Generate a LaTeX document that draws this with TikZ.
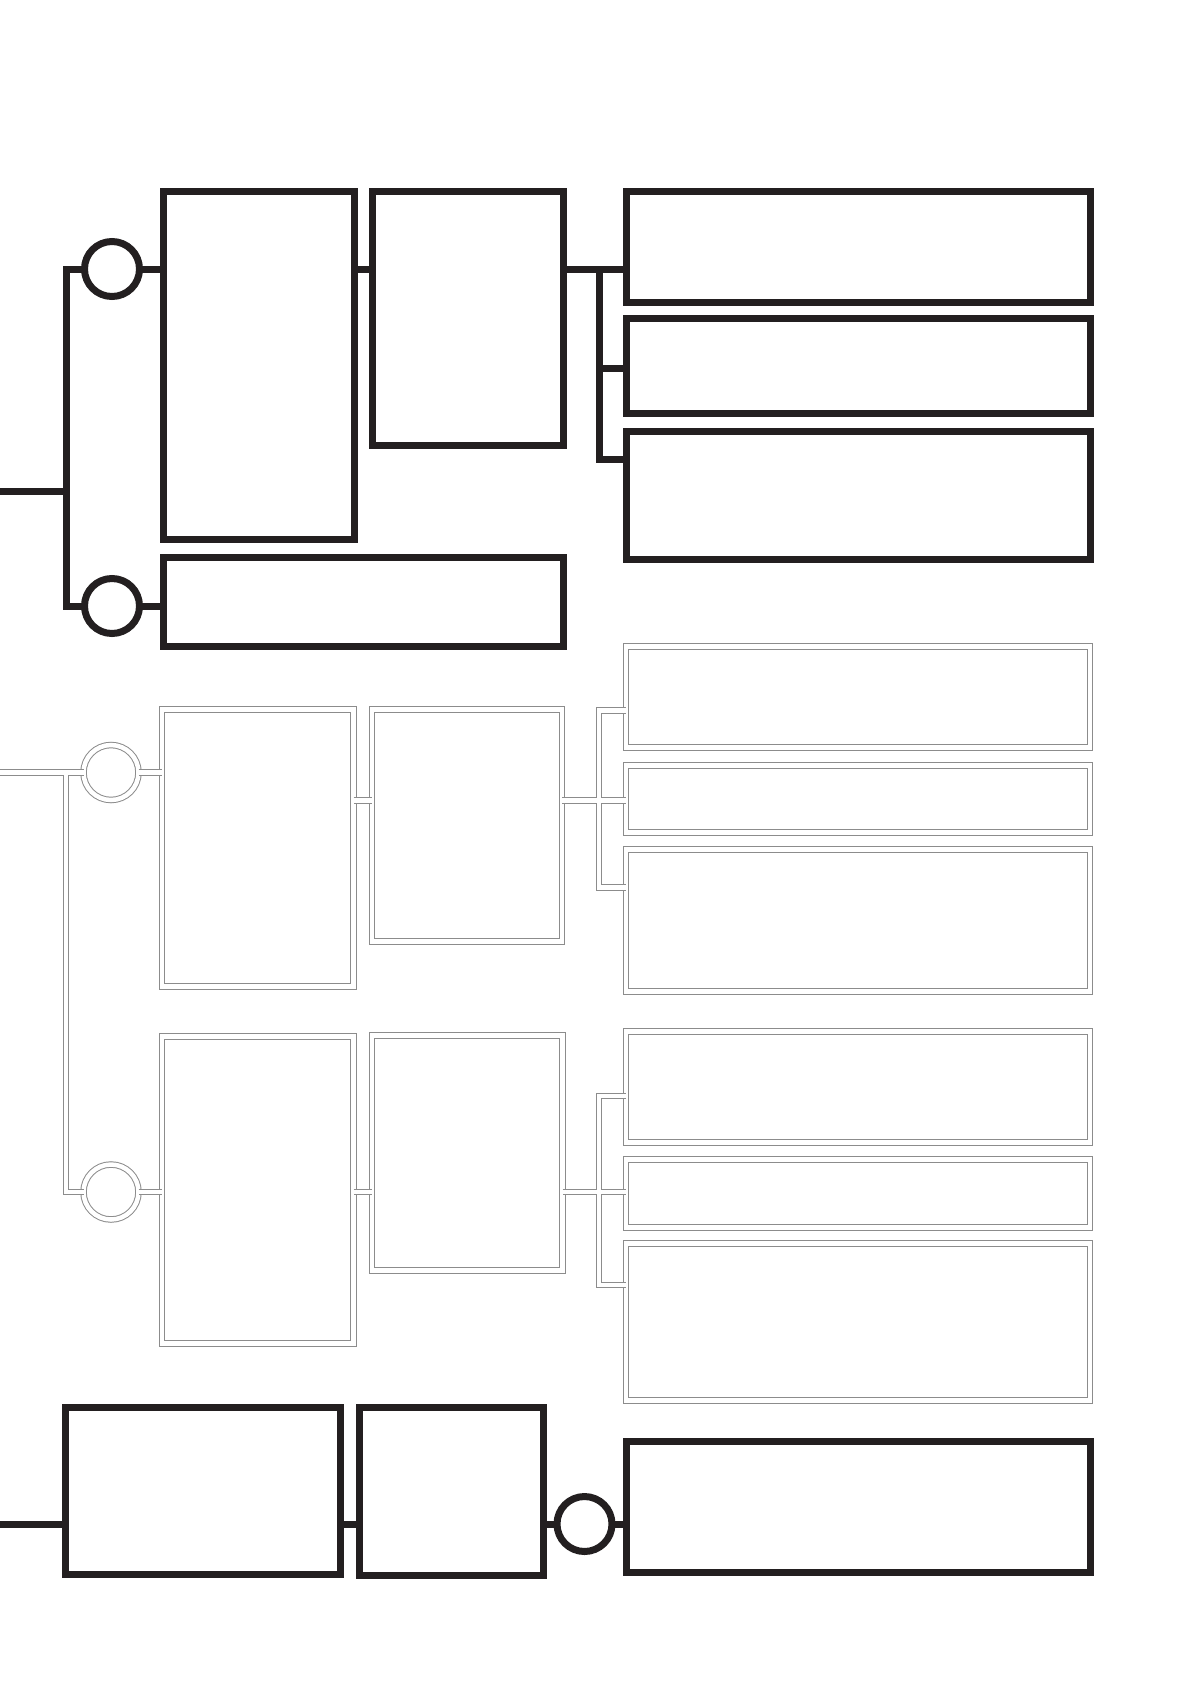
\documentclass[tikz,border=0pt]{standalone}
\definecolor{tinta}{HTML}{231F20}
\definecolor{gris}{HTML}{8C8C8C}

\begin{document}
\begin{tikzpicture}[x=1pt, y=-1pt,
    caja/.style={draw=tinta, line width=7pt, inner sep=0pt, outer sep=0pt},
    cajag/.style={draw=gris, line width=1pt, double=white, double distance=4.5pt, inner sep=0pt, outer sep=0pt},
    nudo/.style={circle, draw=tinta, line width=7pt, minimum size=55pt, inner sep=0pt, outer sep=0pt},
    nudog/.style={circle, draw=gris, line width=1pt, double=white, double distance=4.5pt, minimum size=55pt, inner sep=0pt, outer sep=0pt},
    linea/.style={draw=tinta, line width=7pt, line join=miter},
    lineag/.style={draw=gris, line width=1pt, double=white, double distance=4.5pt, line join=miter}]

    \fill[white] (0,0) rectangle (1191,1684);
    \useasboundingbox (0,0) rectangle (1191,1684);

    % bloque superior
    \node[caja, minimum width=191pt, minimum height=348pt] (A) at (258.5,365) {};
    \node[caja, minimum width=191pt, minimum height=254pt] (B) at (467.5,318) {};
    \node[caja, minimum width=400pt, minimum height=89pt] (C) at (363,601.5) {};
    \node[caja, minimum width=464pt, minimum height=111pt] (D1) at (858,246.5) {};
    \node[caja, minimum width=464pt, minimum height=94.5pt] (D2) at (858,365.75) {};
    \node[caja, minimum width=464pt, minimum height=128pt] (D3) at (858,495) {};
    \node[nudo] (c1) at (112,269) {};
    \node[nudo] (c2) at (112,606) {};

    \coordinate (e1) at (0,491);
    \coordinate (b1) at (66,491);
    \coordinate (s1) at (599,269);
    \coordinate (s2) at (599,368);
    \coordinate (s3) at (599,459);

    \draw[linea] (e1) -- (b1);
    \draw[linea] (c1.west) -| (b1) |- (c2.west);
    \draw[linea] (c1.east) -- (c1 -| A.west);
    \draw[linea] (c2.east) -- (c2 -| C.west);
    \draw[linea] (A.east |- c1) -- (B.west |- c1);
    \draw[linea] (B.east |- s1) -- (D1.west |- s1);
    \draw[linea] (s1) -- (s3) -- (D3.west |- s3);
    \draw[linea] (s2) -- (D2.west |- s2);

    % bloques grises
    \node[cajag, minimum width=191.5pt, minimum height=277pt] (GA) at (257.75,848) {};
    \node[cajag, minimum width=190pt, minimum height=232pt] (GB) at (467,825.5) {};
    \node[cajag, minimum width=464pt, minimum height=101pt] (GD1) at (858,697) {};
    \node[cajag, minimum width=464pt, minimum height=67pt] (GD2) at (858,799) {};
    \node[cajag, minimum width=464pt, minimum height=142pt] (GD3) at (858,920.5) {};
    \node[nudog] (g1) at (111,772.5) {};

    \node[cajag, minimum width=191.5pt, minimum height=307pt] (GA2) at (257.75,1190) {};
    \node[cajag, minimum width=190.5pt, minimum height=235pt] (GB2) at (467.25,1153) {};
    \node[cajag, minimum width=464pt, minimum height=111pt] (GD4) at (858,1087) {};
    \node[cajag, minimum width=464pt, minimum height=68pt] (GD5) at (858,1193.5) {};
    \node[cajag, minimum width=464pt, minimum height=157pt] (GD6) at (858,1322) {};
    \node[nudog] (g2) at (111,1192) {};

    \coordinate (e2) at (0,772.5);
    \coordinate (b2) at (66,772.5);
    \coordinate (r1) at (599,800.5);
    \coordinate (t1) at (599,710.5);
    \coordinate (t3) at (599,887.5);
    \coordinate (r2) at (599,1192);
    \coordinate (t4) at (599,1096);
    \coordinate (t6) at (599,1285);

    \draw[lineag] (e2) -- (g1.west)
        (b2) |- (g2.west)
        (g1.east) -- (g1 -| GA.west)
        (g2.east) -- (g2 -| GA2.west)
        (GA.east |- r1) -- (GB.west |- r1)
        (GB.east |- r1) -- (GD2.west |- r1)
        (GD1.west |- t1) -- (t1) -- (t3) -- (GD3.west |- t3)
        (GA2.east |- r2) -- (GB2.west |- r2)
        (GB2.east |- r2) -- (GD5.west |- r2)
        (GD4.west |- t4) -- (t4) -- (t6) -- (GD6.west |- t6);

    % bloque inferior
    \node[caja, minimum width=274.5pt, minimum height=167pt] (E) at (202.75,1491) {};
    \node[caja, minimum width=184pt, minimum height=168pt] (F) at (451.5,1491.5) {};
    \node[caja, minimum width=464.5pt, minimum height=131pt] (G) at (858.25,1507) {};
    \node[nudo] (h1) at (584.5,1524) {};

    \coordinate (e3) at (0,1524);
    \draw[linea] (e3) -- (e3 -| E.west);
    \draw[linea] (E.east |- e3) -- (F.west |- e3);
    \draw[linea] (F.east |- e3) -- (h1.west);
    \draw[linea] (h1.east) -- (h1 -| G.west);

\end{tikzpicture}
\end{document}
